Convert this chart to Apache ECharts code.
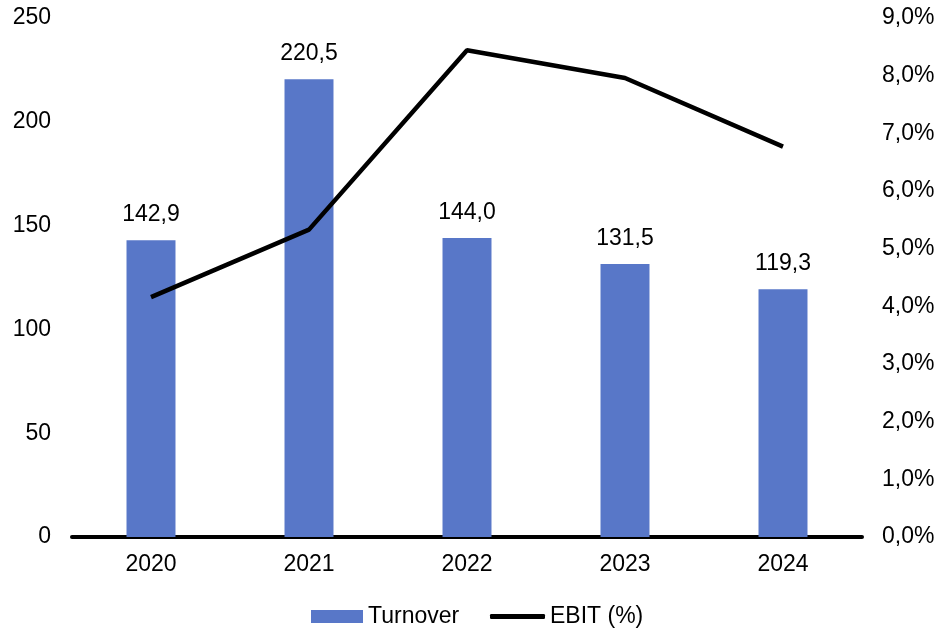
<!DOCTYPE html>
<html><head><meta charset="utf-8">
<script src="https://cdn.jsdelivr.net/npm/echarts@6/dist/echarts.min.js"></script>
<style>html,body{margin:0;padding:0;background:#fff}#c{width:938px;height:629px}</style>
</head><body><div id="c"></div>
<script>
const categories = ['2020','2021','2022','2023','2024'];
const turnover = [142.9, 220.5, 144.0, 131.5, 119.3];
const ebit = [4.16, 5.33, 8.44, 7.96, 6.77];
const fmt = v => v.toFixed(1).replace('.', ',');
const chart = echarts.init(document.getElementById('c'));
const font = 'Liberation Sans, Arial, sans-serif';
const fs = 23;
chart.setOption({
  animation: false,
  textStyle: {fontFamily: font},
  grid: {left: 72, right: 76, top: 18, bottom: 92},
  legend: [
    {left: 306, top: 600, itemWidth: 52, itemHeight: 13, itemGap: 6,
     textStyle: {fontSize: fs, color: '#000', fontFamily: font},
     data: [{name: 'Turnover', icon: 'rect'}]},
    {left: 485, top: 600, itemWidth: 55, itemHeight: 5, itemGap: 6,
     textStyle: {fontSize: fs, color: '#000', fontFamily: font},
     data: [{name: 'EBIT (%)', icon: 'roundRect'}]}
  ],
  xAxis: {
    type: 'category', data: categories,
    axisLine: {lineStyle: {color: '#000', width: 4}},
    axisTick: {show: false},
    axisLabel: {fontSize: fs, color: '#000', margin: 16}
  },
  yAxis: [
    {type: 'value', min: 0, max: 250, interval: 50,
     splitLine: {show: false}, axisLine: {show: false}, axisTick: {show: false},
     axisLabel: {fontSize: fs, color: '#000', margin: 21}},
    {type: 'value', min: 0, max: 9, interval: 1,
     splitLine: {show: false}, axisLine: {show: false}, axisTick: {show: false},
     axisLabel: {fontSize: fs, color: '#000', margin: 20, formatter: v => fmt(v) + '%'}}
  ],
  series: [
    {name: 'Turnover', type: 'bar', data: turnover, barWidth: '31%',
     itemStyle: {color: '#5877C8'},
     label: {show: true, position: 'top', distance: 14, fontSize: fs, color: '#000', formatter: p => fmt(p.value)}},
    {name: 'EBIT (%)', type: 'line', yAxisIndex: 1, data: ebit,
     symbol: 'none', lineStyle: {color: '#000', width: 4.5}, itemStyle: {color: '#000'}}
  ]
});
</script></body></html>
